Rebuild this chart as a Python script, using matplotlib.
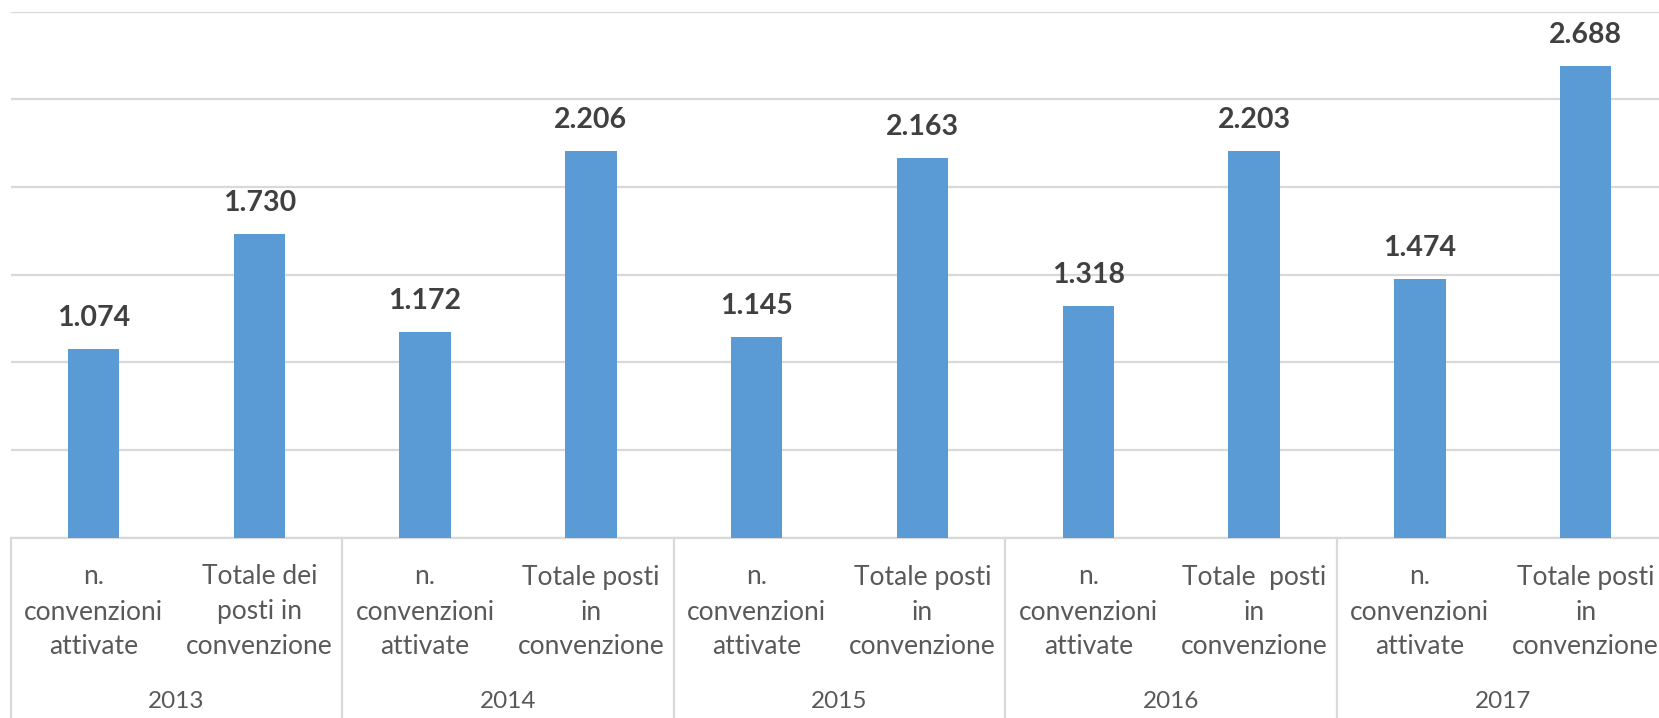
import matplotlib
matplotlib.use("Agg")
import matplotlib.pyplot as plt

years = ["2013", "2014", "2015", "2016", "2017"]
bar_labels = [
    "n.\nconvenzioni\nattivate", "Totale dei\nposti in\nconvenzione",
    "n.\nconvenzioni\nattivate", "Totale posti\nin\nconvenzione",
    "n.\nconvenzioni\nattivate", "Totale posti\nin\nconvenzione",
    "n.\nconvenzioni\nattivate", "Totale  posti\nin\nconvenzione",
    "n.\nconvenzioni\nattivate", "Totale posti\nin\nconvenzione",
]
values = [1074, 1730, 1172, 2206, 1145, 2163, 1318, 2203, 1474, 2688]

BAR = "#5B9BD5"
GRID = "#D9D9D9"
LABEL = "#595959"
VALUE = "#404040"
FONT = "Lato"

W, H = 1659, 718
fig = plt.figure(figsize=(W / 100, H / 100), dpi=100)
left_px, right_px = 10.6, 10.6 + 5 * 331.6
top_px, base_px = 11.6, 537.5
ax = fig.add_axes([left_px / W, (H - base_px) / H,
                   (right_px - left_px) / W, (base_px - top_px) / H])

x = list(range(len(values)))
ax.bar(x, values, width=0.31, color=BAR, zorder=3)
ax.set_xlim(-0.5, len(values) - 0.5)
ax.set_ylim(0, 3000)
ax.set_yticks(range(0, 3001, 500))
ax.yaxis.grid(True, color=GRID, linewidth=1.6, zorder=0)
ax.tick_params(left=False, bottom=False, labelleft=False, labelbottom=False)
for s in ["left", "right", "top"]:
    ax.spines[s].set_visible(False)
ax.spines["bottom"].set_color(GRID)
ax.spines["bottom"].set_linewidth(1.6)

# value labels above the bars
for xi, v in zip(x, values):
    ax.annotate(f"{v:,}".replace(",", "."), (xi, v), xytext=(0, 31),
                textcoords="offset pixels", ha="center", va="center",
                fontsize=20.5, fontweight="bold", color=VALUE, family=FONT)

# category labels under each bar
xt = ax.get_xaxis_transform()
for xi, lab in zip(x, bar_labels):
    ax.annotate(lab, (xi, 0), xytext=(0, -(612 - base_px)),
                textcoords="offset pixels", xycoords=xt, ha="center",
                va="center", fontsize=19, color=LABEL, family=FONT,
                linespacing=1.5, annotation_clip=False)

# year labels and group separators
for i, yr in enumerate(years):
    ax.annotate(yr, (2 * i + 0.5, 0), xytext=(0, -(701 - base_px)),
                textcoords="offset pixels", xycoords=xt, ha="center",
                va="center", fontsize=17.5, color=LABEL, family=FONT,
                annotation_clip=False)
for b in range(0, len(values) + 1, 2):
    ax.plot([b - 0.5, b - 0.5], [0, -0.5], transform=xt, color=GRID,
            linewidth=1.6, clip_on=False)

fig.savefig("out.png", dpi=100)
